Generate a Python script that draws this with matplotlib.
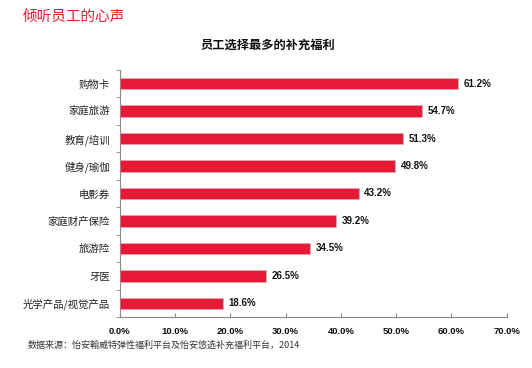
import matplotlib
matplotlib.use("Agg")
import matplotlib.pyplot as plt
import numpy as np

plt.rcParams['font.family'] = ['Noto Sans CJK SC', 'DejaVu Sans']

categories = ["购物卡", "家庭旅游", "教育/培训", "健身/瑜伽", "电影券", "家庭财产保险", "旅游险", "牙医", "光学产品/视觉产品"]
values = [61.2, 54.7, 51.3, 49.8, 43.2, 39.2, 34.5, 26.5, 18.6]
xticks = [0, 10, 20, 30, 40, 50, 60, 70]

fig = plt.figure(figsize=(5.32, 3.68), dpi=100)
ax = fig.add_axes([0.225, 0.1386, 0.7274, 0.6712])

n = len(categories)
y = np.arange(n)
ax.barh(y, values, height=0.42, color='#e51a37', edgecolor='#f3a0ac', linewidth=0.6)
ax.set_ylim(n - 0.5, -0.5)
ax.set_xlim(0, 70)

for yi, v in zip(y, values):
    ax.text(v + 1.0, yi, f"{v:.1f}%", va='center', ha='left', fontsize=7,
            fontweight='bold', family=['Liberation Sans', 'DejaVu Sans'], color='#111111')

ax.set_yticks(y)
ax.set_yticklabels(categories, fontsize=7.5, color='#222222')
ax.tick_params(axis='y', which='major', length=0, pad=7)
ax.set_yticks(np.arange(-0.5, n, 1), minor=True)
ax.tick_params(axis='y', which='minor', length=3, direction='out', color='#888888')

ax.set_xticks(xticks)
ax.set_xticklabels([f"{t:.1f}%" for t in xticks], fontsize=6.8, fontweight='bold',
                   family=['Liberation Sans', 'DejaVu Sans'], color='#111111')
ax.tick_params(axis='x', direction='in', length=3, color='#888888', pad=7)

for s in ['top', 'right']:
    ax.spines[s].set_visible(False)
for s in ['left', 'bottom']:
    ax.spines[s].set_color('#888888')
    ax.spines[s].set_linewidth(0.8)

fig.text(23 / 532, 1 - 18 / 368, "倾听员工的心声", color='#e8192c', fontsize=10.5,
         ha='left', va='center')
fig.text(268 / 532, 1 - 45 / 368, "员工选择最多的补充福利", color='#111111', fontsize=8.8,
         ha='center', va='center', fontweight='bold')
fig.text(28 / 532, 1 - 345 / 368, "数据来源：怡安翰威特弹性福利平台及怡安悠选补充福利平台，2014",
         color='#333333', fontsize=6.5, ha='left', va='center', style='italic')

fig.savefig("out.png", dpi=100)
